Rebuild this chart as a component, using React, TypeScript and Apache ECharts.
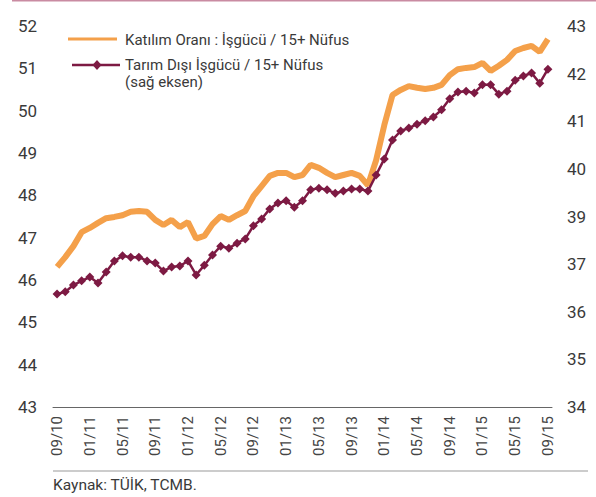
import React, { useEffect, useRef } from "react";
import * as echarts from "echarts";

const months: string[] = [
  "09/10", "10/10", "11/10", "12/10",
  "01/11", "02/11", "03/11", "04/11", "05/11", "06/11", "07/11", "08/11", "09/11", "10/11", "11/11", "12/11",
  "01/12", "02/12", "03/12", "04/12", "05/12", "06/12", "07/12", "08/12", "09/12", "10/12", "11/12", "12/12",
  "01/13", "02/13", "03/13", "04/13", "05/13", "06/13", "07/13", "08/13", "09/13", "10/13", "11/13", "12/13",
  "01/14", "02/14", "03/14", "04/14", "05/14", "06/14", "07/14", "08/14", "09/14", "10/14", "11/14", "12/14",
  "01/15", "02/15", "03/15", "04/15", "05/15", "06/15", "07/15", "08/15", "09/15",
];

const katilimOrani: number[] = [
  46.31, 46.54, 46.8, 47.13, 47.23, 47.35, 47.46, 47.49, 47.53, 47.61, 47.63, 47.61,
  47.42, 47.3, 47.42, 47.25, 47.37, 46.98, 47.04, 47.32, 47.51, 47.42, 47.53, 47.63,
  47.98, 48.22, 48.46, 48.53, 48.53, 48.43, 48.48, 48.72, 48.65, 48.53, 48.43, 48.48,
  48.53, 48.46, 48.24, 48.83, 49.66, 50.37, 50.49, 50.58, 50.54, 50.51, 50.54, 50.61,
  50.84, 50.98, 51.01, 51.03, 51.13, 50.94, 51.06, 51.2, 51.41, 51.48, 51.53, 51.39, 51.69,
];

const tarimDisi: number[] = [
  36.67, 36.72, 36.88, 36.98, 37.07, 36.93, 37.19, 37.45, 37.57, 37.54, 37.54, 37.45,
  37.4, 37.21, 37.31, 37.33, 37.45, 37.12, 37.35, 37.59, 37.8, 37.75, 37.87, 37.97,
  38.28, 38.44, 38.68, 38.82, 38.87, 38.72, 38.87, 39.13, 39.17, 39.13, 39.05, 39.1,
  39.15, 39.15, 39.1, 39.48, 39.86, 40.31, 40.52, 40.59, 40.68, 40.76, 40.85, 41.02,
  41.28, 41.44, 41.46, 41.42, 41.61, 41.61, 41.39, 41.46, 41.72, 41.82, 41.89, 41.65, 41.98,
];

const seriesNames: string[] = [
  "Katılım Oranı : İşgücü / 15+ Nüfus",
  "Tarım Dışı İşgücü / 15+ Nüfus",
];
const noteText = "(sağ eksen)";
const sourceText = "Kaynak: TÜİK, TCMB.";

const ORANGE = "#f4a04a";
const MAROON = "#7d1a43";
const FONT = "Roboto";

export default function App() {
  const ref = useRef<HTMLDivElement>(null);
  useEffect(() => {
    if (!ref.current) return;
    const chart = echarts.init(ref.current, null, { renderer: "svg" });
    chart.setOption({
      animation: false,
      backgroundColor: "#fff",
      textStyle: { fontFamily: FONT },
      grid: { left: 53, right: 44, top: 26, bottom: 90, containLabel: false },
      xAxis: {
        type: "category",
        data: months,
        boundaryGap: true,
        axisTick: { show: false },
        axisLine: { lineStyle: { color: "#666", width: 1 } },
        axisLabel: {
          interval: 3,
          rotate: 90,
          margin: 9,
          fontFamily: FONT,
          fontSize: 15,
          color: "#444",
        },
      },
      yAxis: [
        {
          type: "value",
          min: 43,
          max: 52,
          interval: 1,
          splitLine: { show: false },
          axisLine: { show: false },
          axisTick: { show: false },
          axisLabel: { margin: 16, fontFamily: FONT, fontSize: 17, color: "#3a3a3a" },
        },
        {
          type: "value",
          position: "right",
          min: 34,
          max: 43,
          interval: 1.125,
          splitLine: { show: false },
          axisLine: { show: false },
          axisTick: { show: false },
          axisLabel: {
            margin: 15,
            fontFamily: FONT,
            fontSize: 17,
            color: "#3a3a3a",
            formatter: (v: number) => String(Math.round(v)),
          },
        },
      ],
      series: [
        {
          name: seriesNames[0],
          type: "line",
          data: katilimOrani,
          yAxisIndex: 0,
          showSymbol: false,
          symbol: "none",
          lineStyle: { color: ORANGE, width: 6 },
          itemStyle: { color: ORANGE },
          z: 2,
        },
        {
          name: seriesNames[1],
          type: "line",
          data: tarimDisi,
          yAxisIndex: 1,
          symbol: "diamond",
          symbolSize: 9,
          showAllSymbol: true,
          lineStyle: { color: MAROON, width: 2.5 },
          itemStyle: { color: MAROON },
          z: 3,
        },
      ],
      graphic: [
        { type: "rect", left: 12, top: 0, shape: { width: 584, height: 1.5 }, style: { fill: "#c98ba2" } },
        { type: "line", shape: { x1: 68, y1: 39, x2: 117, y2: 39 }, style: { stroke: ORANGE, lineWidth: 3 } },
        { type: "text", x: 125, y: 40, style: { text: seriesNames[0], font: `15px ${FONT}`, fill: "#3a3a3a", verticalAlign: "middle" } },
        { type: "line", shape: { x1: 72, y1: 65, x2: 120, y2: 65 }, style: { stroke: MAROON, lineWidth: 2.5 } },
        { type: "polygon", shape: { points: [[97, 60], [101.5, 65], [97, 70], [92.5, 65]] }, style: { fill: MAROON } },
        { type: "text", x: 125, y: 65, style: { text: seriesNames[1], font: `15px ${FONT}`, fill: "#3a3a3a", verticalAlign: "middle" } },
        { type: "text", x: 125, y: 82, style: { text: noteText, font: `15px ${FONT}`, fill: "#3a3a3a", verticalAlign: "middle" } },
        { type: "line", shape: { x1: 53, y1: 471, x2: 588, y2: 471 }, style: { stroke: "#bbb", lineWidth: 1.5 } },
        { type: "text", x: 53, y: 485, style: { text: sourceText, font: `15.5px ${FONT}`, fill: "#3a3a3a", verticalAlign: "middle" } },
      ],
    });
    return () => chart.dispose();
  }, []);
  return <div ref={ref} style={{ width: 596, height: 497, position: "absolute", left: 0, top: 0 }} />;
}
